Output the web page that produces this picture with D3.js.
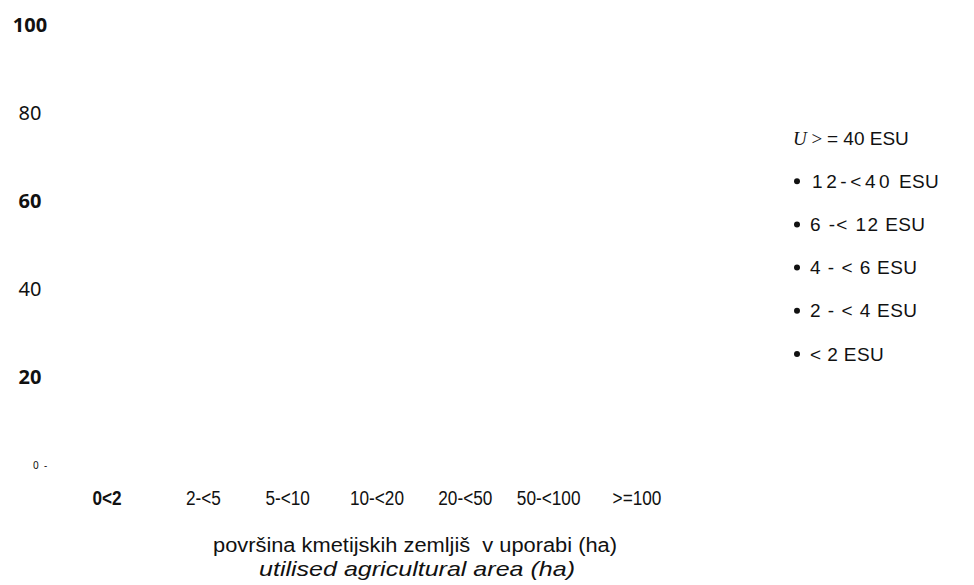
<!DOCTYPE html>
<html>
<head>
<meta charset="utf-8">
<script src="https://cdn.jsdelivr.net/npm/d3@7"></script>
<style>
  html, body { margin: 0; padding: 0; background: #fff; }
  svg { display: block; }
</style>
</head>
<body>
<svg id="chart" width="974" height="585"></svg>
<script>
// ---- data ----
const categories = ["0<2", "2-<5", "5-<10", "10-<20", "20-<50", "50-<100", ">=100"];
const yTicks = [0, 20, 40, 60, 80, 100];
const yTickLabels = ["0  -", "20", "40", "60", "80", "100"];
const yTickBold = [false, true, false, true, false, true];
const legendLabels = ["12-<40 ESU", "6 -< 12 ESU", "4 - < 6 ESU", "2 - < 4 ESU", "< 2 ESU"];
const legendTopLabel = ["U", " > ", "= 40 ESU"];
const xTitle = "površina kmetijskih zemljiš  v uporabi (ha)";
const xTitleEn = "utilised agricultural area (ha)";

// ---- layout ----
const svg = d3.select("#chart");
const y = d3.scaleLinear().domain([0, 100]).range([465, 25]);
const x = d3.scalePoint().domain(categories).range([107, 637]);
const xNudge = [0, 8, 4, 5, 5, 0, 0];
const sans = "'Liberation Sans', Arial, sans-serif";

// y tick labels
svg.append("g").selectAll("text").data(yTicks).join("text")
  .attr("x", (d, i) => i === 0 ? 33 : 30)
  .attr("y", d => y(d))
  .attr("dy", "0.35em")
  .attr("text-anchor", (d, i) => i === 0 ? "start" : "middle")
  .attr("font-family", "'Noto Sans', 'Open Sans', sans-serif")
  .attr("font-size", (d, i) => i === 0 ? 10 : 20)
  .attr("font-weight", (d, i) => yTickBold[i] ? "bold" : "normal")
  .attr("fill", "#111")
  .attr("xml:space", "preserve")
  .text((d, i) => yTickLabels[i]);

// category labels (condensed)
const cat = svg.append("g").selectAll("text").data(categories).join("text")
  .attr("x", (d, i) => x(d) + xNudge[i])
  .attr("y", 498)
  .attr("dy", "0.35em")
  .attr("text-anchor", "middle")
  .attr("font-family", sans)
  .attr("font-size", 20)
  .attr("font-weight", (d, i) => i === 0 ? "bold" : "normal")
  .attr("fill", "#111")
  .text(d => d);
cat.each(function () {
  const w = this.getComputedTextLength();
  d3.select(this).attr("textLength", w * 0.86).attr("lengthAdjust", "spacingAndGlyphs");
});

// x titles
svg.append("text")
  .attr("x", 415).attr("y", 545).attr("dy", "0.35em")
  .attr("text-anchor", "middle")
  .attr("font-family", sans)
  .attr("font-size", 20)
  .attr("fill", "#111")
  .attr("xml:space", "preserve")
  .attr("textLength", 404).attr("lengthAdjust", "spacingAndGlyphs")
  .text(xTitle);
svg.append("text")
  .attr("x", 417).attr("y", 569).attr("dy", "0.35em")
  .attr("text-anchor", "middle")
  .attr("font-family", sans)
  .attr("font-size", 21)
  .attr("font-style", "italic")
  .attr("fill", "#111")
  .attr("xml:space", "preserve")
  .attr("textLength", 316).attr("lengthAdjust", "spacingAndGlyphs")
  .text(xTitleEn);

// legend
const legY = d3.scalePoint().domain(d3.range(legendLabels.length + 1)).range([138, 354]);
const legTop = svg.append("text")
  .attr("x", 793).attr("y", legY(0)).attr("dy", "0.35em")
  .attr("font-size", 19).attr("fill", "#111");
legTop.append("tspan").attr("font-family", "'Liberation Serif', 'DejaVu Serif', serif").attr("font-style", "italic").text(legendTopLabel[0]);
legTop.append("tspan").attr("font-family", "'Liberation Serif', serif").attr("xml:space", "preserve").text(legendTopLabel[1]);
legTop.append("tspan").attr("font-family", sans).text(legendTopLabel[2]);

const legSpacing = [3.6, 1.4, 1, 1, 0.4];
const leg = svg.append("g").selectAll("g").data(legendLabels).join("g")
  .attr("transform", (d, i) => `translate(0,${legY(i + 1)})`);
leg.append("circle").attr("cx", 797).attr("cy", 0).attr("r", 3).attr("fill", "#111");
const legText = leg.append("text")
  .attr("x", (d, i) => i === 0 ? 812 : 810)
  .attr("dy", "0.35em")
  .attr("font-family", sans)
  .attr("font-size", 19)
  .attr("fill", "#111")
  .attr("xml:space", "preserve");
legText.each(function (d, i) {
  const t = d3.select(this);
  const k = d.lastIndexOf(" ESU");
  t.append("tspan").attr("letter-spacing", legSpacing[i]).text(d.slice(0, k));
  t.append("tspan").attr("letter-spacing", 0.4).text(d.slice(k));
});
</script>
</body>
</html>
